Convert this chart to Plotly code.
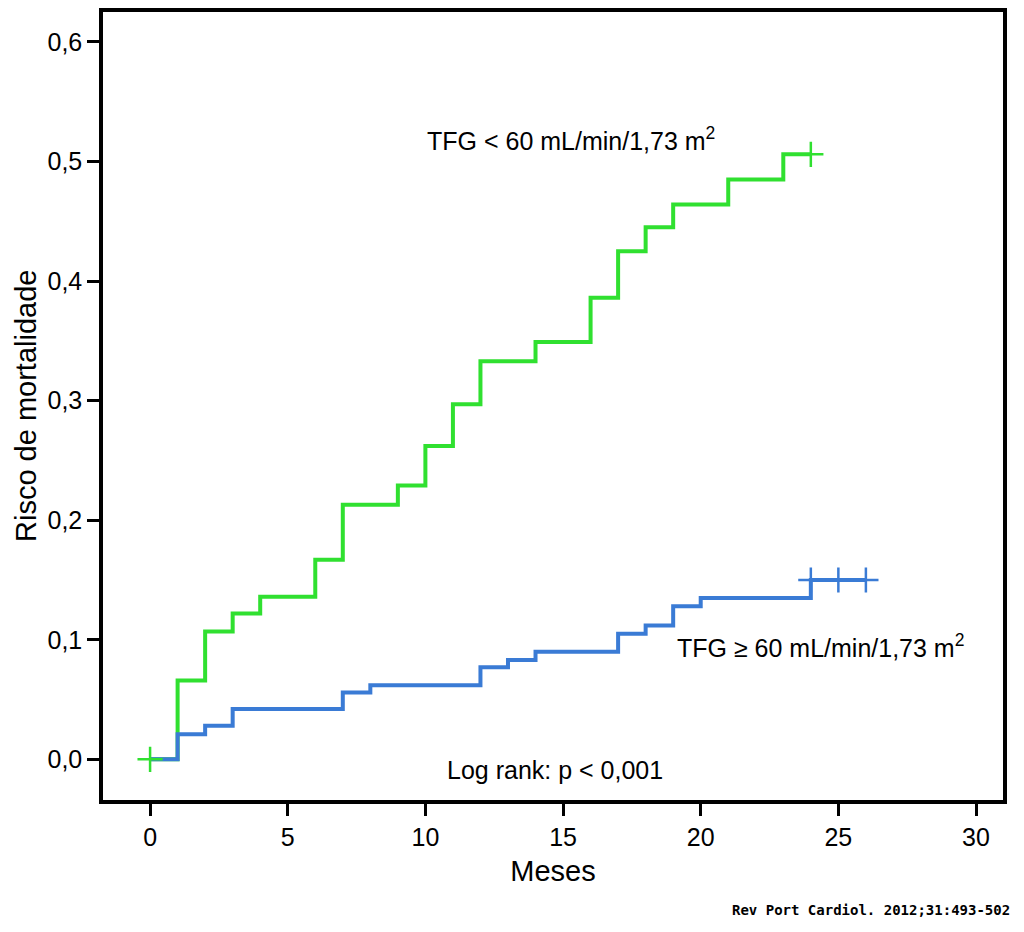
import plotly.graph_objects as go

# Data
green_x = [0, 1, 2, 3, 4, 6, 7, 9, 10, 11, 12, 14, 16, 17, 18, 19, 21, 23, 24]
green_y = [0.0, 0.066, 0.107, 0.122, 0.136, 0.167, 0.213, 0.229, 0.262, 0.297,
           0.333, 0.349, 0.386, 0.425, 0.445, 0.464, 0.485, 0.506, 0.506]
blue_x = [0, 1, 2, 3, 7, 8, 12, 13, 14, 17, 18, 19, 20, 24, 26]
blue_y = [0.0, 0.021, 0.028, 0.042, 0.056, 0.062, 0.077, 0.083, 0.090, 0.105,
          0.112, 0.128, 0.135, 0.150, 0.150]
green_cens_x = [0, 24]
green_cens_y = [0.0, 0.506]
blue_cens_x = [24, 25, 26]
blue_cens_y = [0.150, 0.150, 0.150]
x_ticks = [0, 5, 10, 15, 20, 25, 30]
y_ticks = [0.0, 0.1, 0.2, 0.3, 0.4, 0.5, 0.6]

GREEN = "#30E030"
BLUE = "#3A7BD5"
FONT = "Liberation Sans, Arial, sans-serif"

fig = go.Figure()
fig.add_trace(go.Scatter(x=green_x, y=green_y, mode="lines",
                         line=dict(color=GREEN, width=4, shape="hv"), hoverinfo="skip"))
fig.add_trace(go.Scatter(x=blue_x, y=blue_y, mode="lines",
                         line=dict(color=BLUE, width=4, shape="hv"), hoverinfo="skip"))
fig.add_trace(go.Scatter(x=blue_cens_x, y=blue_cens_y, mode="markers",
                         marker=dict(symbol="cross-thin", size=18,
                                     line=dict(color=BLUE, width=2.5)), hoverinfo="skip"))
fig.add_trace(go.Scatter(x=green_cens_x, y=green_cens_y, mode="markers",
                         marker=dict(symbol="cross-thin", size=18,
                                     line=dict(color=GREEN, width=2.5)), hoverinfo="skip"))

fig.add_annotation(x=15.3, y=0.519, xref="x", yref="y", showarrow=False,
                   xanchor="center", yanchor="middle",
                   text="TFG &lt; 60 mL/min/1,73 m<sup>2</sup>",
                   font=dict(family=FONT, size=25, color="black"))
fig.add_annotation(x=24.34, y=0.0944, xref="x", yref="y", showarrow=False,
                   xanchor="center", yanchor="middle",
                   text="TFG ≥ 60 mL/min/1,73 m<sup>2</sup>",
                   font=dict(family=FONT, size=25, color="black"))
fig.add_annotation(x=14.71, y=-0.0092, xref="x", yref="y", showarrow=False,
                   xanchor="center", yanchor="middle",
                   text="Log rank: p &lt; 0,001",
                   font=dict(family=FONT, size=25, color="black"))
fig.add_annotation(x=-0.0856, y=0.5, xref="paper", yref="paper", showarrow=False,
                   xanchor="center", yanchor="middle", textangle=-90, borderpad=0,
                   text="Risco de mortalidade",
                   font=dict(family=FONT, size=29, color="black"))
fig.add_annotation(x=1.01, y=-0.139, xref="paper", yref="paper", showarrow=False,
                   xanchor="right", yanchor="middle",
                   text="<b>Rev Port Cardiol. 2012;31:493-502</b>",
                   font=dict(family="DejaVu Sans Mono, monospace", size=14, color="black"))

fig.update_layout(
    width=1008, height=916,
    margin=dict(l=95, r=13, t=0, b=124),
    paper_bgcolor="white", plot_bgcolor="white",
    showlegend=False,
    separators=",.",
    font=dict(family=FONT, size=26, color="black"),
    xaxis=dict(range=[-1.71, 30.98], tickvals=x_ticks, ticks="outside", ticklen=12,
               tickwidth=3, tickcolor="black", showline=True, linecolor="black",
               linewidth=3.5, mirror=True, showgrid=False, zeroline=False,
               title=dict(text="Meses", font=dict(size=29), standoff=12),
               tickfont=dict(size=25)),
    yaxis=dict(range=[-0.034, 0.625], tickvals=y_ticks, tickformat=".1f",
               ticks="outside", ticklen=12, tickwidth=3, tickcolor="black",
               showline=True, linecolor="black", linewidth=3.5, mirror=True,
               showgrid=False, zeroline=False,
               tickfont=dict(size=25)),
)

fig.write_html("out.html")
